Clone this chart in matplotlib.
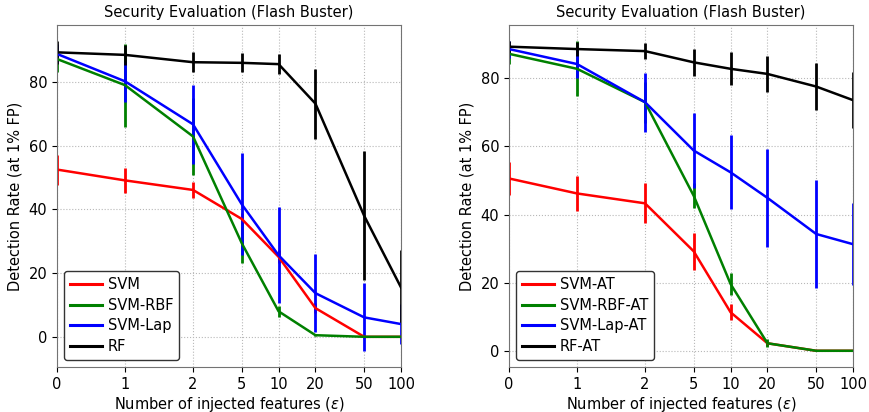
import matplotlib
matplotlib.use("Agg")
import matplotlib.pyplot as plt
from matplotlib.lines import Line2D
import numpy as np

x_vals = [0, 1, 2, 5, 10, 20, 50, 100]
x_labels = ["0", "1", "2", "5", "10", "20", "50", "100"]

# Left panel (no adversarial training)
svm = [52.5, 49.1, 46.1, 37.0, 25.1, 9.0, 0.0, 0.0]
svm_err = [4.7, 3.9, 2.5, 2.0, 2.0, 1.5, 0.5, 0.5]
rbf = [87.2, 79.0, 62.9, 29.4, 8.0, 0.5, 0.0, 0.0]
rbf_err = [4.0, 13.0, 12.0, 6.3, 1.7, 0.3, 0.2, 0.2]
lap = [88.8, 80.2, 66.7, 41.6, 25.6, 13.7, 6.1, 4.0]
lap_err = [3.0, 6.5, 12.5, 16.0, 15.0, 12.3, 10.7, 6.4]
rf = [89.3, 88.5, 86.2, 86.0, 85.6, 73.2, 38.0, 15.5]
rf_err = [3.7, 3.1, 3.1, 3.0, 3.2, 11.0, 20.2, 11.6]

# Right panel (adversarial training)
svm_at = [50.6, 46.2, 43.3, 29.2, 11.3, 2.2, 0.0, 0.0]
svm_at_err = [4.8, 5.2, 5.9, 5.4, 2.4, 0.8, 0.2, 0.2]
rbf_at = [87.2, 82.8, 73.0, 45.5, 19.6, 2.2, 0.0, 0.0]
rbf_at_err = [3.0, 8.1, 6.0, 3.7, 3.2, 1.2, 0.2, 0.2]
lap_at = [88.6, 84.2, 73.0, 58.8, 52.4, 44.9, 34.3, 31.3]
lap_at_err = [2.5, 4.0, 8.7, 11.0, 10.9, 14.4, 15.8, 12.0]
rf_at = [89.3, 88.6, 88.0, 84.7, 82.8, 81.3, 77.6, 73.6]
rf_at_err = [1.8, 2.0, 2.3, 3.9, 4.8, 5.2, 6.9, 8.3]

title = "Security Evaluation (Flash Buster)"
xlabel = r"Number of injected features ($\varepsilon$)"
ylabel = "Detection Rate (at 1% FP)"

colors = ["red", "green", "blue", "black"]

fig = plt.figure(figsize=(8.69, 4.12), dpi=100)
ax1 = fig.add_axes([57/869, 1-367/412, 344/869, 342/412])
ax2 = fig.add_axes([509/869, 1-367/412, 344/869, 342/412])

panels = [
    (ax1, [svm, rbf, lap, rf], [svm_err, rbf_err, lap_err, rf_err],
     ["SVM", "SVM-RBF", "SVM-Lap", "RF"]),
    (ax2, [svm_at, rbf_at, lap_at, rf_at],
     [svm_at_err, rbf_at_err, lap_at_err, rf_at_err],
     ["SVM-AT", "SVM-RBF-AT", "SVM-Lap-AT", "RF-AT"]),
]

for ax, ys, errs, labels in panels:
    for y, e, c in zip(ys, errs, colors):
        ax.errorbar(x_vals, y, yerr=e, color=c, lw=1.8, elinewidth=2.0,
                    capsize=0)
    ax.set_xscale("symlog", linthresh=2, linscale=1)
    ax.set_xlim(0, 100)
    ax.set_xticks(x_vals)
    ax.set_xticklabels(x_labels)
    ax.xaxis.set_minor_locator(matplotlib.ticker.NullLocator())
    ax.set_yticks([0, 20, 40, 60, 80])
    ax.grid(True, linestyle=":", color="0.72", lw=0.8)
    ax.set_axisbelow(True)
    for s in ax.spines.values():
        s.set_edgecolor("0.45")
    ax.tick_params(labelsize=10.5)
    ax.set_title(title, fontsize=10.5)
    ax.set_xlabel(xlabel, fontsize=10.5, labelpad=2)
    ax.set_ylabel(ylabel, fontsize=10.5)
    handles = [Line2D([], [], color=c, lw=2.2) for c in colors]
    leg = ax.legend(handles, labels, loc="lower left", fontsize=10.5,
                    frameon=True, fancybox=True, handlelength=2.2,
                    handletextpad=0.4, labelspacing=0.38, framealpha=1.0)
    leg.get_frame().set_edgecolor("0.2")

fig.savefig("out.png", dpi=100)
